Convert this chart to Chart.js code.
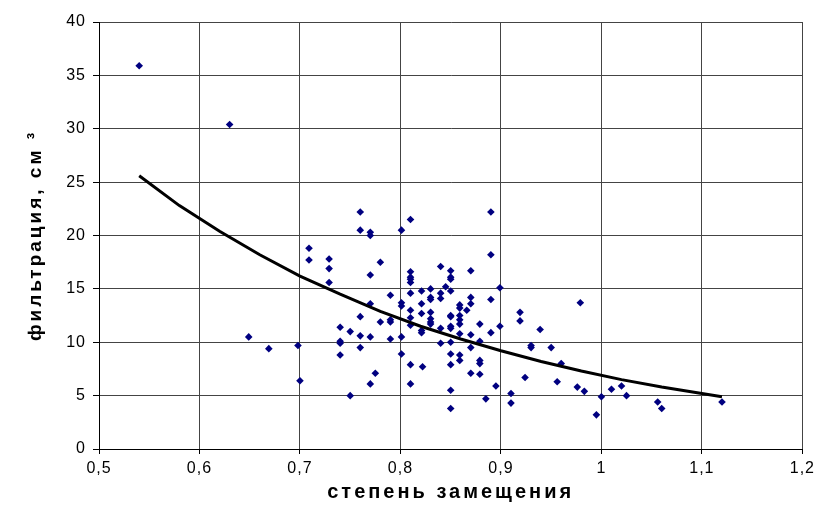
<!DOCTYPE html>
<html lang="ru">
<head>
  <meta charset="UTF-8" />
  <title>фильтрация</title>
  <script src="https://cdn.jsdelivr.net/npm/chart.js"></script>
  <style>
    body { margin: 0; background: #fff; }
    #wrap { width: 820px; height: 510px; }
  </style>
</head>
<body>
  <div id="wrap"><canvas id="myChart" width="820" height="510"></canvas></div>
  <script>
    // measured points (степень замещения, фильтрация)
    const xVals = [
      0.540, 0.630, 0.649, 0.669, 0.698, 0.700, 0.709, 0.709, 0.729, 0.729,
      0.729, 0.740, 0.740, 0.740, 0.740, 0.750, 0.750, 0.760, 0.760, 0.760,
      0.760, 0.760, 0.770, 0.770, 0.770, 0.770, 0.770, 0.770, 0.775, 0.780,
      0.780, 0.790, 0.790, 0.790, 0.790, 0.801, 0.801, 0.801, 0.801, 0.801,
      0.810, 0.810, 0.810, 0.810, 0.810, 0.810, 0.810, 0.810, 0.810, 0.810,
      0.810, 0.821, 0.821, 0.821, 0.821, 0.821, 0.822, 0.830, 0.830, 0.830,
      0.830, 0.830, 0.830, 0.830, 0.840, 0.840, 0.840, 0.840, 0.840, 0.845,
      0.850, 0.850, 0.850, 0.850, 0.850, 0.850, 0.850, 0.850, 0.850, 0.850,
      0.850, 0.850, 0.850, 0.859, 0.859, 0.859, 0.859, 0.859, 0.859, 0.859,
      0.859, 0.866, 0.870, 0.870, 0.870, 0.870, 0.870, 0.870, 0.879, 0.879,
      0.879, 0.879, 0.879, 0.885, 0.890, 0.890, 0.890, 0.890, 0.895, 0.899,
      0.899, 0.910, 0.910, 0.919, 0.919, 0.924, 0.930, 0.930, 0.939, 0.950,
      0.956, 0.960, 0.976, 0.979, 0.983, 0.995, 1.000, 1.010, 1.020, 1.025,
      1.056, 1.060, 1.120
    ];
    const yVals = [
      35.9, 30.4, 10.5, 9.4, 9.7, 6.4, 18.8, 17.7, 17.8, 16.9,
      15.6, 11.4, 10.1, 9.9, 8.8, 11.0, 5.0, 22.2, 20.5, 12.4,
      10.6, 9.5, 20.3, 20.0, 16.3, 13.6, 10.5, 6.1, 7.1, 17.5,
      11.9, 14.4, 12.1, 11.9, 10.3, 20.5, 13.7, 13.4, 10.5, 8.9,
      21.5, 16.6, 16.1, 15.9, 15.6, 14.6, 13.0, 12.3, 11.6, 7.9,
      6.1, 14.8, 13.6, 12.7, 11.1, 10.9, 7.7, 15.0, 14.2, 14.0,
      12.8, 12.2, 11.9, 11.7, 17.1, 14.6, 14.1, 11.3, 9.9, 15.2,
      16.7, 16.1, 15.9, 14.8, 12.5, 12.4, 11.5, 11.3, 10.0, 8.9,
      7.9, 5.5, 3.8, 13.5, 13.2, 12.5, 12.1, 11.7, 10.8, 8.8,
      8.3, 13.0, 16.7, 14.2, 13.6, 10.7, 9.5, 7.1, 11.7, 10.1,
      8.3, 8.0, 7.0, 4.7, 22.2, 18.2, 14.0, 10.9, 5.9, 15.1,
      11.5, 5.2, 4.3, 12.8, 12.0, 6.7, 9.7, 9.5, 11.2, 9.5,
      6.3, 8.0, 5.8, 13.7, 5.4, 3.2, 4.9, 5.6, 5.9, 5.0,
      4.4, 3.8, 4.4
    ];

    // trend line
    const trendX = [0.54, 0.58, 0.62, 0.66, 0.70, 0.74, 0.78, 0.82, 0.86, 0.90, 0.94, 0.98, 1.02, 1.06, 1.10, 1.12];
    const trendY = [25.6, 22.8, 20.4, 18.2, 16.2, 14.5, 12.9, 11.5, 10.3, 9.2, 8.2, 7.3, 6.5, 5.8, 5.2, 4.9];

    const xTickLabels = ['0,5', '0,6', '0,7', '0,8', '0,9', '1', '1,1', '1,2'];
    const yTickLabels = ['0', '5', '10', '15', '20', '25', '30', '35', '40'];

    const fontFamily = "'Liberation Sans', Arial, sans-serif";

    // the original lettering is spread out: a little for ticks, more for axis titles
    const spacing = {
      id: 'spacing',
      beforeLayout(chart) { chart.ctx.letterSpacing = '1px'; },
      beforeDraw(chart) {
        chart.ctx.letterSpacing = '1px';
        Object.values(chart.scales).forEach(sc => {
          if (sc._titlePatched) return;
          const orig = sc.drawTitle;
          sc.drawTitle = function () {
            this.ctx.letterSpacing = '3px';
            orig.apply(this, arguments);
            this.ctx.letterSpacing = '1px';
          };
          sc._titlePatched = true;
        });
      }
    };

    const ctx = document.getElementById('myChart').getContext('2d');

    new Chart(ctx, {
      type: 'scatter',
      data: {
        datasets: [{
          label: 'точки',
          data: xVals.map((x, i) => ({ x: x, y: yVals[i] })),
          pointStyle: 'rectRot',
          pointRadius: 3.8,
          backgroundColor: '#000080',
          borderColor: '#000080',
          borderWidth: 0,
          order: 2
        }, {
          type: 'line',
          label: 'тренд',
          data: trendX.map((x, i) => ({ x: x, y: trendY[i] })),
          borderColor: '#000',
          borderWidth: 3,
          pointRadius: 0,
          fill: false,
          tension: 0,
          order: 1
        }]
      },
      plugins: [spacing],
      options: {
        responsive: false,
        animation: false,
        layout: { padding: { left: 0, top: 22, right: 17, bottom: 0 } },
        plugins: {
          legend: { display: false },
          tooltip: { enabled: false }
        },
        scales: {
          x: {
            type: 'linear',
            min: 0.5,
            max: 1.2,
            afterFit: s => { s.height = 61; },
            ticks: {
              stepSize: 0.1,
              color: '#000',
              padding: 5,
              maxRotation: 0,
              font: { family: fontFamily, size: 16 },
              callback: (v, i) => xTickLabels[i]
            },
            grid: { color: '#444', lineWidth: 1, tickLength: 5, tickColor: '#000' },
            border: { color: '#000', width: 1 },
            title: {
              display: true,
              text: 'степень замещения',
              color: '#000',
              font: { family: fontFamily, size: 20, weight: 'bold' },
              padding: { top: 0, bottom: 6 }
            }
          },
          y: {
            min: 0,
            max: 40,
            afterFit: s => { s.width = 99; },
            ticks: {
              stepSize: 5,
              color: '#000',
              padding: 7,
              font: { family: fontFamily, size: 16 },
              callback: (v, i) => yTickLabels[i]
            },
            grid: { color: '#444', lineWidth: 1, tickLength: 6, tickColor: '#000' },
            border: { color: '#000', width: 1 },
            title: {
              display: true,
              text: 'фильтрация, см ³',
              color: '#000',
              font: { family: fontFamily, size: 19, weight: 'bold' },
              padding: { top: 24, bottom: 0 }
            }
          }
        }
      }
    });
  </script>
</body>
</html>
